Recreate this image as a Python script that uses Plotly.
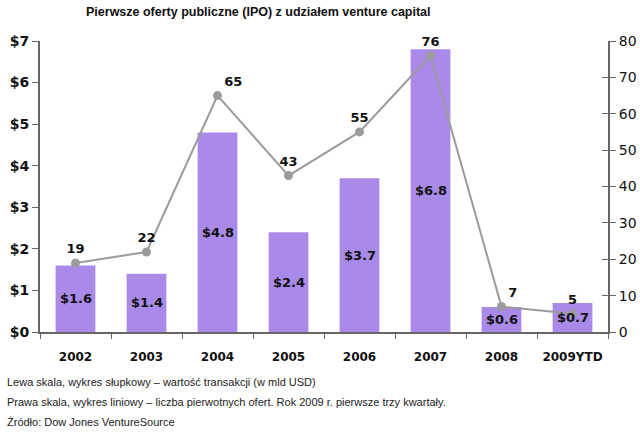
import plotly.graph_objects as go

years = ["2002", "2003", "2004", "2005", "2006", "2007", "2008", "2009YTD"]
deal_value = [1.6, 1.4, 4.8, 2.4, 3.7, 6.8, 0.6, 0.7]          # bln USD (left axis)
ipo_count = [19, 22, 65, 43, 55, 76, 7, 5]                     # number of IPOs (right axis)
left_ticks = [0, 1, 2, 3, 4, 5, 6, 7]
left_tick_text = ["$0", "$1", "$2", "$3", "$4", "$5", "$6", "$7"]
right_ticks = [0, 10, 20, 30, 40, 50, 60, 70, 80]
count_label_pos = ["top center", "top center", "top right", "top center",
                   "top center", "top center", "top right", "top center"]

title_text = "Pierwsze oferty publiczne (IPO) z udziałem venture capital"
footer_lines = [
    "Lewa skala, wykres słupkowy – wartość transakcji (w mld USD)",
    "Prawa skala, wykres liniowy – liczba pierwotnych ofert. Rok 2009 r. pierwsze trzy kwartały.",
    "Źródło: Dow Jones VentureSource",
]

BAR = "#a98ae8"
LINE = "#9b9b9b"
AXIS = "#666666"
NUMFONT = "Verdana, DejaVu Sans, sans-serif"

fig = go.Figure()
fig.add_trace(go.Bar(
    x=years, y=deal_value, marker_color=BAR, marker_line_width=0,
    width=0.56, yaxis="y", hoverinfo="skip",
))
fig.add_trace(go.Scatter(
    x=years, y=ipo_count, yaxis="y2", mode="lines+markers+text",
    line=dict(color=LINE, width=2), marker=dict(color=LINE, size=9),
    text=["<b>%d</b>" % v for v in ipo_count], textposition=count_label_pos,
    textfont=dict(family=NUMFONT, size=13, color="#111111"),
    cliponaxis=False,
))
# invisible trace to activate the inner-tick axis
fig.add_trace(go.Scatter(x=[years[0]], y=[0], yaxis="y3", mode="markers",
                         marker=dict(opacity=0), hoverinfo="skip"))

annotations = []
for i, v in enumerate(deal_value):
    annotations.append(dict(
        x=i, y=v / 2, xref="x", yref="y", text="<b>$%.1f</b>" % v,
        showarrow=False, font=dict(family=NUMFONT, size=13, color="#111111"),
    ))
for i, line in enumerate(footer_lines):
    annotations.append(dict(
        x=-0.062, y=-0.172 - i * 0.0687, xref="paper", yref="paper",
        xanchor="left", yanchor="middle", text=line, showarrow=False,
        font=dict(family="Liberation Sans, Arial, sans-serif", size=11, color="#222222"),
    ))
annotations.append(dict(
    x=0.384, y=1.0 + 29 / 291, xref="paper", yref="paper",
    xanchor="center", yanchor="middle", text="<b>" + title_text + "</b>",
    showarrow=False,
    font=dict(family="Liberation Sans, Arial, sans-serif", size=12.5, color="#111111"),
))

fig.update_layout(
    template="none",
    width=640, height=433,
    margin=dict(l=40, r=32, t=41, b=101, autoexpand=False),
    paper_bgcolor="white", plot_bgcolor="white",
    showlegend=False,
    xaxis=dict(
        type="category", automargin=False,
        range=[-0.5, 7.5], showgrid=False, showline=True, linecolor=AXIS, linewidth=2,
        ticks="outside", tickson="boundaries", ticklen=5, tickcolor=AXIS, tickwidth=1,
        ticklabelstandoff=13,
        tickfont=dict(family=NUMFONT, size=12, color="#111111"),
        tickprefix="<b>", ticksuffix="</b>",
    ),
    yaxis=dict(
        automargin=False,
        range=[0, 7], tickvals=left_ticks, ticktext=["<b>%s</b>" % t for t in left_tick_text],
        showgrid=False, zeroline=False, showline=True, linecolor=AXIS, linewidth=2,
        ticks="outside", ticklen=6, tickcolor=AXIS,
        tickfont=dict(family=NUMFONT, size=14, color="#111111"),
    ),
    yaxis2=dict(
        automargin=False,
        range=[0, 80], tickvals=right_ticks, overlaying="y", side="right", anchor="x",
        showgrid=False, zeroline=False, showline=True, linecolor=AXIS, linewidth=2,
        ticks="outside", ticklen=6, tickcolor=AXIS,
        tickfont=dict(family=NUMFONT, size=14, color="#111111"),
    ),
    yaxis3=dict(
        automargin=False,
        range=[0, 80], tickvals=right_ticks, overlaying="y", side="right", anchor="x",
        showgrid=False, zeroline=False, showline=False, showticklabels=False,
        ticks="inside", ticklen=6, tickcolor=AXIS,
    ),
    annotations=annotations,
)

fig.write_html("out.html", config={"displayModeBar": False},
               post_script="document.body.style.margin='0';document.body.style.overflow='hidden';")
